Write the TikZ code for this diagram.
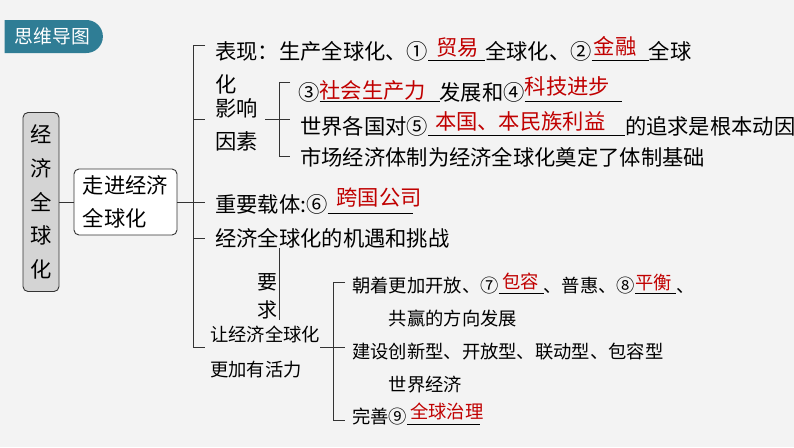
\documentclass[tikz,border=0pt]{standalone}
\usepackage{fontspec}
\setmainfont{Noto Sans CJK SC}
\usetikzlibrary{positioning,shapes.misc}

\definecolor{badgeblue}{HTML}{2F7D95}
\definecolor{ansred}{HTML}{C00000}
\definecolor{bggray}{HTML}{F3F3F3}
\definecolor{boxgray}{HTML}{D4D4D4}

% answer blank: [raise]{line length}{shift}{answer}
\newcommand\blank[4][4pt]{%
  \rlap{\rule[-1.5pt]{#2}{0.9pt}}%
  \makebox[#2][l]{\hspace*{#3}\raisebox{#1}{\textcolor{ansred}{#4}}}}

\begin{document}
\begin{tikzpicture}[
  x=1pt, y=-1pt,
  big/.style={font=\fontsize{21.3pt}{33pt}\selectfont},
  small/.style={font=\fontsize{18.3pt}{33pt}\selectfont},
  txt/.style={anchor=base west, inner sep=0pt},
  multi/.style={text width=#1, align=left},
  box/.style={draw=black!80, line width=0.9pt, rounded corners=5pt,
              inner sep=0pt, align=center},
  ln/.style={draw=black!80, line width=0.9pt},
  badge/.style={rounded rectangle, rounded rectangle west arc=none,
                fill=badgeblue, text=white, minimum width=105pt,
                minimum height=33pt, font=\fontsize{18.8pt}{20pt}\selectfont},
]
  \fill[bggray] (0,0) rectangle (794,447);
  \useasboundingbox (0,0) rectangle (794,447);

  \node[badge] (title) at (52.5,36.5) {思维导图};

  % left boxes
  \node[box, fill=boxgray, minimum width=36pt, minimum height=179pt,
        font=\fontsize{21.3pt}{33.75pt}\selectfont] (jjqqh) at (41,202)
        {经\\济\\全\\球\\化};
  \node[box, big, fill=white, minimum width=103pt, minimum height=66pt,
        align=left] (zjjj) at (125.5,202) {走进经济\\全球化};

  % first level
  \node[txt, big, multi=560pt] (biaoxian) at (215,59)
    {表现：生产全球化、①\blank[4pt]{57pt}{8pt}{贸易}全球化、②\blank[5pt]{57pt}{2pt}{金融}全球\\化};
  \node[txt, big, multi=43pt] (yingxiang) at (215,116) {影响\\因素};
  \node[txt, big] (zaiti) at (215,212) {重要载体:⑥\blank[7pt]{85pt}{9pt}{跨国公司}};
  \node[txt, big] (jiyu) at (215,246) {经济全球化的机遇和挑战};
  \node[txt, font=\fontsize{20pt}{28pt}\selectfont, multi=22pt] (yaoqiu) at (257,289) {要\\求};
  \node[txt, font=\fontsize{18.3pt}{35pt}\selectfont, multi=110pt] (huoli) at (210,341)
    {让经济全球化\\更加有活力};

  % influence factors
  \node[txt, big] (shengchanli) at (298,100)
    {③\blank[2pt]{120pt}{0pt}{社会生产力}发展和④\blank[6pt]{97pt}{0pt}{科技进步}};
  \node[txt, big] (dongyin) at (300,134)
    {世界各国对⑤\blank[5pt]{197pt}{7pt}{本国、本民族利益}的追求是根本动因};
  \node[txt, big] (tizhi) at (300,165) {市场经济体制为经济全球化奠定了体制基础};

  % requirements
  \node[txt, small, multi=460pt] (fangxiang) at (352,292)
    {朝着更加开放、⑦\blank[4pt]{45pt}{4pt}{包容}、普惠、⑧\blank[3pt]{41pt}{0pt}{平衡}、\\\hspace*{2em}共赢的方向发展};
  \node[txt, small, multi=460pt] (shijie) at (352,358)
    {建设创新型、开放型、联动型、包容型\\\hspace*{2em}世界经济};
  \node[txt, small] (zhili) at (352,423) {完善⑨\blank[5pt]{73pt}{3pt}{全球治理}};

  % connectors
  \draw[ln] (jjqqh.east) -- (zjjj.west);
  \draw[ln] (zjjj.east) -- ([xshift=-10pt]zaiti.west |- zjjj.east);
  \draw[ln] ([xshift=-10pt,yshift=14pt]biaoxian.base west)
    -| ([xshift=-17pt,yshift=-6pt]huoli.base west)
    -- ([xshift=-5pt,yshift=-6pt]huoli.base west);
  \draw[ln] ([xshift=-22pt,yshift=-3pt]yingxiang.base west) -- ++(12,0);
  \draw[ln] ([xshift=-22pt,yshift=8pt]jiyu.base west) -- ++(12,0);

  \draw[ln] ([xshift=-8pt,yshift=18pt]shengchanli.base west)
    -| ([xshift=-21pt,yshift=9pt]tizhi.base west)
    -- ([xshift=-10pt,yshift=9pt]tizhi.base west);
  \draw[ln] ([xshift=7pt,yshift=-3pt]yingxiang.base east) -- ++(25,0);

  \draw[ln] ([xshift=64pt,yshift=-2pt]jiyu.base west)
    -- ([xshift=69pt,yshift=21pt]huoli.base west);

  \draw[ln] ([xshift=-7pt,yshift=10pt]fangxiang.base west)
    -| ([xshift=-19pt,yshift=3pt]zhili.base west)
    -- ([xshift=-7pt,yshift=3pt]zhili.base west);
  \draw[ln] ([yshift=-6pt]huoli.base east) -- ++(25,0);
\end{tikzpicture}
\end{document}
